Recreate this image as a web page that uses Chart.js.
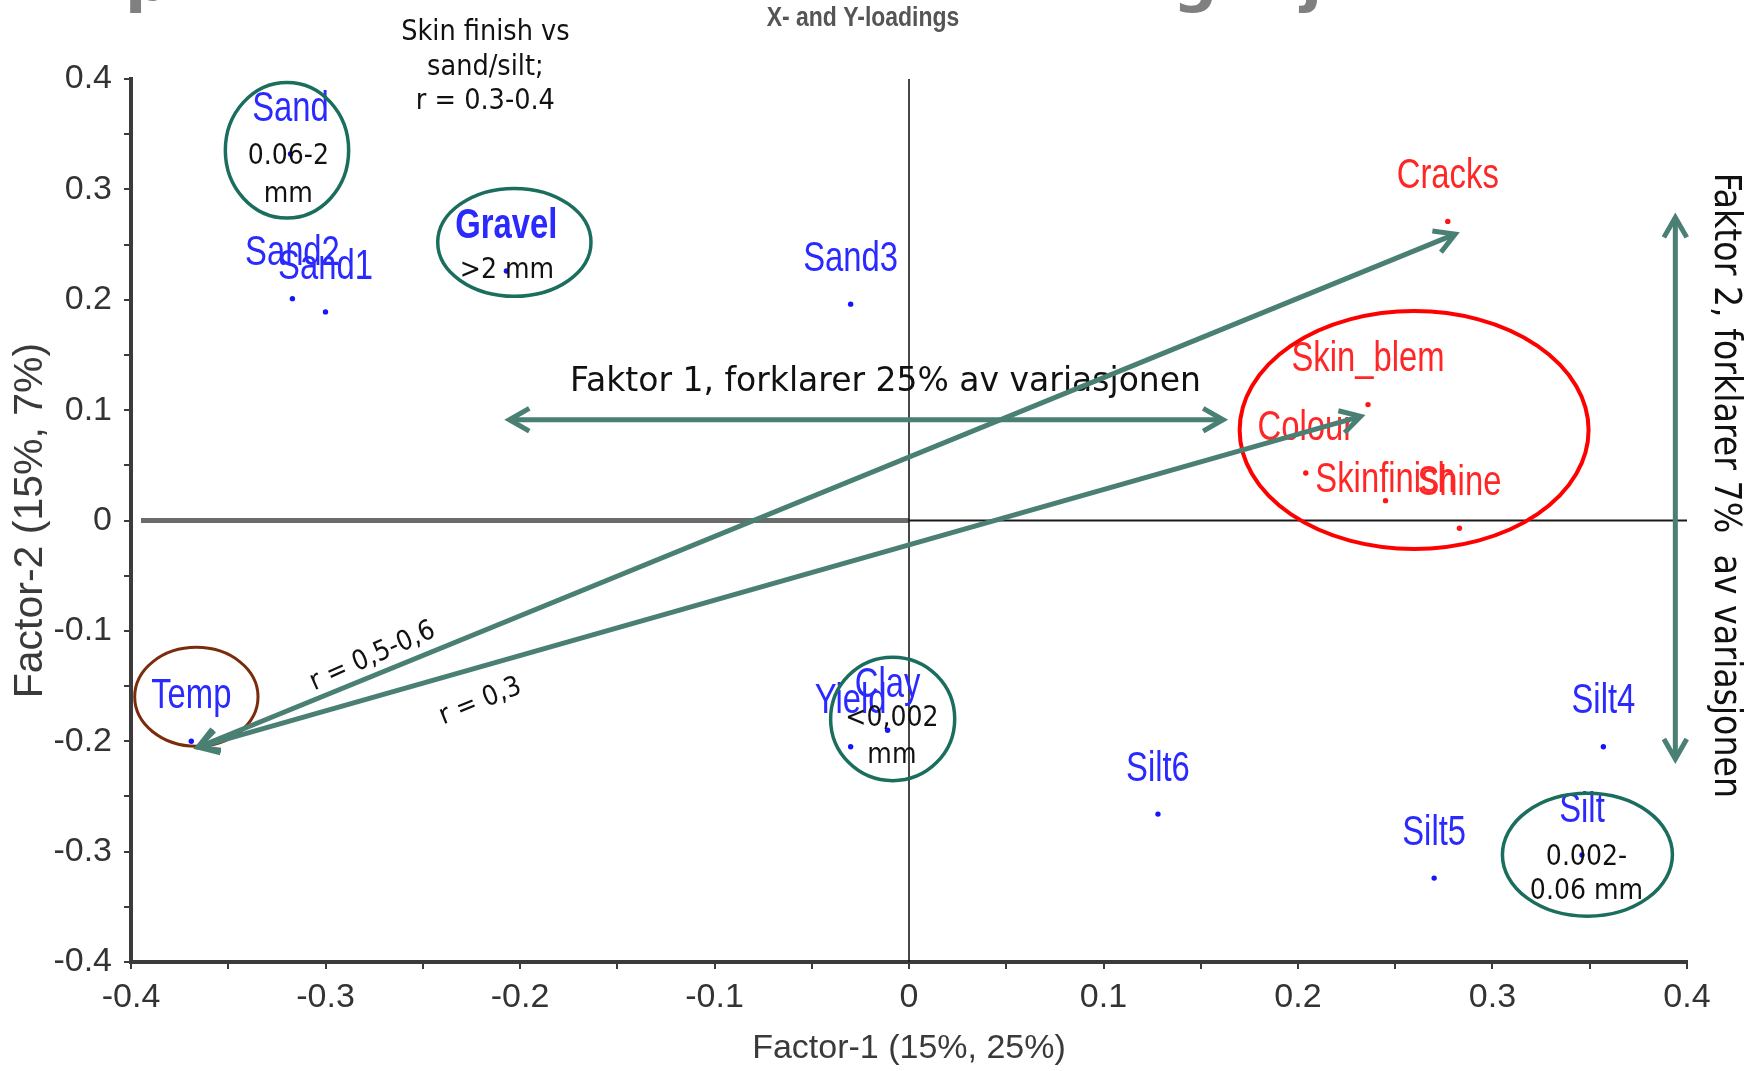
<!DOCTYPE html>
<html>
<head>
<meta charset="utf-8">
<script src="https://cdn.jsdelivr.net/npm/chart.js@4.4.1/dist/chart.umd.min.js"></script>
<style>
  html, body { margin: 0; padding: 0; background: #fff; }
</style>
</head>
<body>
<canvas id="myChart" width="1760" height="1071"></canvas>
<script>
// X-loadings (blått): jord og dyrking
const xNames = ['Sand', 'Sand2', 'Sand1', 'Gravel', 'Sand3', 'Temp', 'Yield', 'Clay', 'Silt6', 'Silt5', 'Silt4', 'Silt'];
const xFactor1 = [-0.318, -0.317, -0.300, -0.207, -0.030, -0.369, -0.030, -0.011, 0.128, 0.270, 0.357, 0.346];
const xFactor2 = [0.332, 0.201, 0.189, 0.226, 0.196, -0.200, -0.205, -0.190, -0.266, -0.324, -0.205, -0.303];

// Y-loadings (rødt): kvalitet
const yNames = ['Cracks', 'Skin_blem', 'Colour', 'Skinfinish', 'Shine'];
const yFactor1 = [0.277, 0.236, 0.204, 0.245, 0.283];
const yFactor2 = [0.271, 0.105, 0.043, 0.018, -0.007];

// tick labels (same on both axes)
const tickLabels = ['-0.4', '-0.3', '-0.2', '-0.1', '0', '0.1', '0.2', '0.3', '0.4'];

const ARIAL = "'Liberation Sans', Arial, sans-serif";
const SLIDE = "'DejaVu Sans Condensed', 'DejaVu Sans', sans-serif";

// annotations from the slide, in data units
const circles = [
    { x: -0.3198, y: 0.3354, rx: 0.0317, ry: 0.0614, color: '#1b6e5e', width: 3.5 }, // sand
    { x: -0.2029, y: 0.2520, rx: 0.0394, ry: 0.0489, color: '#1b6e5e', width: 3.5 }, // gravel
    { x: -0.3664, y: -0.1597, rx: 0.0317, ry: 0.0448, color: '#7a2c0c', width: 3 },  // temp
    { x: -0.0084, y: -0.1798, rx: 0.0319, ry: 0.0559, color: '#1b6e5e', width: 3.5 }, // clay
    { x: 0.3488, y: -0.3028, rx: 0.0437, ry: 0.0557, color: '#1b6e5e', width: 3.5 },  // silt
    { x: 0.2597, y: 0.0820, rx: 0.0897, ry: 0.1078, color: '#ff0000', width: 4 }      // kvalitet
];

const arrows = [
    { from: [-0.2055, 0.0913], to: [0.1615, 0.0913] },
    { from: [0.3940, 0.2746], to: [0.3940, -0.2160] },
    { from: [-0.3655, -0.2054], to: [0.2808, 0.2595] },
    { from: [-0.3655, -0.2054], to: [0.2322, 0.0944] }
];

const notes = [
    { text: 'Skin finish vs', x: -0.2178, y: 0.4452, size: 28.5 },
    { text: 'sand/silt;', x: -0.2178, y: 0.4135, size: 28.5 },
    { text: 'r = 0.3-0.4', x: -0.2178, y: 0.3818, size: 28.5 },
    { text: '0.06-2', x: -0.3191, y: 0.3320, size: 28 },
    { text: 'mm', x: -0.3191, y: 0.2978, size: 28 },
    { text: '>2 mm', x: -0.2067, y: 0.2287, size: 28 },
    { text: '<0,002', x: -0.0088, y: -0.1766, size: 28 },
    { text: 'mm', x: -0.0088, y: -0.2101, size: 28 },
    { text: '0.002-', x: 0.3483, y: -0.3025, size: 28 },
    { text: '0.06 mm', x: 0.3483, y: -0.3333, size: 28 },
    { text: 'Faktor 1, forklarer 25% av variasjonen', x: -0.0121, y: 0.1277, size: 33, family: "'DejaVu Sans', sans-serif" },
    { text: 'Faktor 2, forklarer 7%  av variasjonen', x: 0.4210, y: 0.0317, size: 37, angle: 90 },
    { text: 'r = 0,5-0,6', x: -0.2764, y: -0.1209, size: 27.5, angle: -24 },
    { text: 'r = 0,3', x: -0.2209, y: -0.1617, size: 27.5, angle: -22 }
];

const boldNames = ['Gravel'];
// etiketten som programmet flyttet ned for å unngå Colour
const labelLift = { Skinfinish: 20 };

const tickText = (v) => {
    const k = Math.round(v * 20);
    if (k % 2 !== 0) return '';
    return tickLabels[k / 2 + 4] || '';
};

// pilspiss
const head = (ctx, tx, ty, ang) => {
    const len = 23, spread = 0.52;
    ctx.beginPath();
    ctx.moveTo(tx - len * Math.cos(ang - spread), ty - len * Math.sin(ang - spread));
    ctx.lineTo(tx, ty);
    ctx.lineTo(tx - len * Math.cos(ang + spread), ty - len * Math.sin(ang + spread));
    ctx.stroke();
};

// smal tekst (Arial Narrow finnes ikke, så Liberation Sans klemmes sammen)
const narrowText = (ctx, text, px, py, font, sy) => {
    ctx.save();
    ctx.font = font;
    ctx.translate(px, py);
    ctx.scale(0.82, sy || 1);
    ctx.fillText(text, 0, 0);
    ctx.restore();
};

const overlay = {
    id: 'overlay',
    beforeDatasetsDraw(chart) {
        const { ctx, scales: { x, y } } = chart;
        const x0 = x.getPixelForValue(0), y0 = y.getPixelForValue(0);
        ctx.save();
        ctx.strokeStyle = '#6b6b6b';
        ctx.lineWidth = 5;
        ctx.beginPath(); ctx.moveTo(x.left + 10, y0); ctx.lineTo(x0, y0); ctx.stroke();
        ctx.strokeStyle = '#1a1a1a';
        ctx.lineWidth = 2;
        ctx.beginPath(); ctx.moveTo(x0, y0); ctx.lineTo(x.right, y0); ctx.stroke();
        ctx.lineWidth = 1.6;
        ctx.beginPath(); ctx.moveTo(x0, y.top); ctx.lineTo(x0, y.bottom); ctx.stroke();
        ctx.restore();
    },
    afterDatasetsDraw(chart) {
        const { ctx } = chart;
        ctx.save();
        ctx.textAlign = 'center';
        ctx.textBaseline = 'middle';
        chart.data.datasets.forEach((ds, i) => {
            const meta = chart.getDatasetMeta(i);
            ctx.fillStyle = ds.labelColor;
            meta.data.forEach((pt, j) => {
                const name = ds.names[j];
                const font = (boldNames.includes(name) ? 'bold ' : '') + '40px ' + ARIAL;
                narrowText(ctx, name, pt.x, pt.y - (labelLift[name] || 45), font, 1.06);
            });
        });
        ctx.restore();
    },
    afterDraw(chart) {
        const { ctx, scales: { x, y } } = chart;
        ctx.save();

        // tittel og rester av lysbildetittelen
        ctx.fillStyle = '#555';
        ctx.textAlign = 'center';
        ctx.textBaseline = 'middle';
        narrowText(ctx, 'X- and Y-loadings', 863, 18, 'bold 28px ' + ARIAL);
        ctx.fillStyle = '#808080';
        ctx.font = "bold 62px 'DejaVu Sans', sans-serif";
        ctx.textAlign = 'left';
        ctx.textBaseline = 'alphabetic';
        ctx.fillText('p', 125, 0);
        ctx.fillText('g', 1173, 0);
        ctx.fillText('j', 1301, 0);

        // tekst
        ctx.fillStyle = '#111';
        ctx.textAlign = 'center';
        ctx.textBaseline = 'middle';
        notes.forEach(n => {
            ctx.save();
            ctx.font = n.size + 'px ' + (n.family || SLIDE);
            ctx.translate(x.getPixelForValue(n.x), y.getPixelForValue(n.y));
            ctx.rotate((n.angle || 0) * Math.PI / 180);
            ctx.fillText(n.text, 0, 3);
            ctx.restore();
        });

        // ringer
        circles.forEach(c => {
            const cx = x.getPixelForValue(c.x), cy = y.getPixelForValue(c.y);
            const rx = Math.abs(x.getPixelForValue(c.x + c.rx) - cx);
            const ry = Math.abs(y.getPixelForValue(c.y + c.ry) - cy);
            ctx.strokeStyle = c.color;
            ctx.lineWidth = c.width;
            ctx.beginPath();
            ctx.ellipse(cx, cy, rx, ry, 0, 0, Math.PI * 2);
            ctx.stroke();
        });

        // piler
        ctx.strokeStyle = '#4a7f73';
        ctx.lineWidth = 5;
        ctx.lineJoin = 'miter';
        arrows.forEach(a => {
            const ax = x.getPixelForValue(a.from[0]), ay = y.getPixelForValue(a.from[1]);
            const bx = x.getPixelForValue(a.to[0]), by = y.getPixelForValue(a.to[1]);
            ctx.beginPath(); ctx.moveTo(ax, ay); ctx.lineTo(bx, by); ctx.stroke();
            head(ctx, bx, by, Math.atan2(by - ay, bx - ax));
            head(ctx, ax, ay, Math.atan2(ay - by, ax - bx));
        });
        ctx.restore();
    }
};

const axisColor = '#3b3b3b';

new Chart(document.getElementById('myChart'), {
    type: 'scatter',
    data: {
        datasets: [{
            label: 'X-loadings',
            names: xNames,
            labelColor: '#2a2aff',
            data: xFactor1.map((v, i) => ({ x: v, y: xFactor2[i] })),
            pointRadius: 2.7,
            pointBackgroundColor: '#1414ff',
            pointBorderWidth: 0
        }, {
            label: 'Y-loadings',
            names: yNames,
            labelColor: '#ff2626',
            data: yFactor1.map((v, i) => ({ x: v, y: yFactor2[i] })),
            pointRadius: 2.7,
            pointBackgroundColor: '#ff1414',
            pointBorderWidth: 0
        }]
    },
    options: {
        responsive: false,
        devicePixelRatio: 1,
        animation: false,
        events: [],
        layout: { padding: { top: 79, right: 73, left: 0, bottom: 0 } },
        plugins: {
            legend: { display: false },
            tooltip: { enabled: false }
        },
        scales: {
            x: {
                type: 'linear',
                min: -0.4,
                max: 0.4,
                border: { display: true, color: axisColor, width: 4 },
                grid: { drawOnChartArea: false, drawTicks: true, tickLength: 7, color: axisColor, lineWidth: 2 },
                ticks: {
                    stepSize: 0.05, autoSkip: false, maxRotation: 0, padding: 8,
                    color: '#333', font: { family: ARIAL, size: 34 },
                    callback: tickText
                },
                title: {
                    display: true, text: 'Factor-1 (15%, 25%)', color: '#3a3a3a',
                    font: { family: ARIAL, size: 34, lineHeight: 1 },
                    padding: { top: 0, bottom: 5 }
                },
                afterFit: (s) => { s.height = 109; }
            },
            y: {
                type: 'linear',
                min: -0.4,
                max: 0.4,
                border: { display: true, color: axisColor, width: 4 },
                grid: { drawOnChartArea: false, drawTicks: true, tickLength: 7, color: axisColor, lineWidth: 2 },
                ticks: {
                    stepSize: 0.05, autoSkip: false, padding: 12,
                    color: '#333', font: { family: ARIAL, size: 34 },
                    callback: tickText
                },
                title: {
                    display: true, text: 'Factor-2 (15%, 7%)', color: '#3a3a3a',
                    font: { family: ARIAL, size: 41, lineHeight: 1 },
                    padding: { top: 10, bottom: 0 }
                },
                afterFit: (s) => { s.width = 131; }
            }
        }
    },
    plugins: [overlay]
});
</script>
</body>
</html>
